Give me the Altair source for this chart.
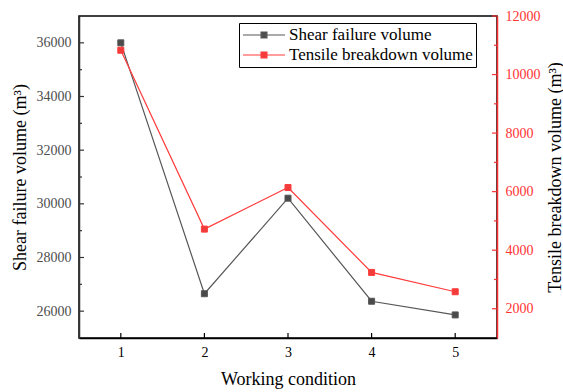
import altair as alt
import pandas as pd

# Working conditions and the two failure volumes (m³)
conditions = [1, 2, 3, 4, 5]
shear_volume = [36000, 26650, 30210, 26370, 25860]
tensile_volume = [10830, 4720, 6140, 3240, 2580]

series_names = ["Shear failure volume", "Tensile breakdown volume"]
marker_colors = ["#4a4a4a", "#f23b3b"]
line_colors = ["#575757", "#ff3c3c"]

# Tick positions (ticks point into the plot, so they are drawn as rules)
x_ticks = [1, 2, 3, 4, 5]
shear_major = [26000, 28000, 30000, 32000, 34000, 36000]
shear_minor = [27000, 29000, 31000, 33000, 35000]
tensile_major = [2000, 4000, 6000, 8000, 10000, 12000]
tensile_minor = [3000, 5000, 7000, 9000, 11000]

W, H = 418, 322
FONT = "Liberation Serif"
RED = "#ff3333"

shear_df = pd.DataFrame({"condition": conditions, "volume": shear_volume,
                         "series": series_names[0]})
tensile_df = pd.DataFrame({"condition": conditions, "volume": tensile_volume,
                           "series": series_names[1]})

x_scale = alt.Scale(domain=[0.5, 5.5], nice=False, zero=False)
x_enc = alt.X(
    "condition:Q", scale=x_scale,
    axis=alt.Axis(values=x_ticks, format="d", tickSize=0, labelPadding=7,
                  labelFontSize=14, labelColor="black", domainColor="black",
                  domainWidth=1.5, grid=False, title="Working condition",
                  titleFontSize=18, titleFontWeight="normal", titleColor="black",
                  titleY=41, titleBaseline="middle"),
)

shear_scale = alt.Scale(domain=[25000, 37000], nice=False, zero=False)
tensile_scale = alt.Scale(domain=[1000, 12000], nice=False, zero=False)

legend = alt.Legend(
    title=None, orient="none", legendX=160, legendY=7, direction="vertical",
    symbolType="M-1,0H1M-0.14,-0.14H0.14V0.14H-0.14Z", symbolSize=1764,
    symbolStrokeWidth=1.2, symbolOpacity=1, clipHeight=18, rowPadding=2,
    labelOffset=3, labelFontSize=17, labelFont=FONT, labelColor="black",
    labelLimit=400, padding=3, strokeColor="black", fillColor="white",
)
fill_enc = alt.Fill("series:N", scale=alt.Scale(domain=series_names, range=marker_colors),
                    legend=legend)
stroke_enc = alt.Stroke("series:N", scale=alt.Scale(domain=series_names, range=line_colors),
                        legend=legend)

# ---- shear failure volume on the left axis ----
shear_y = alt.Y(
    "volume:Q", scale=shear_scale,
    axis=alt.Axis(orient="left", values=shear_major, format="d", tickSize=0,
                  labelPadding=8, labelFontSize=14, labelColor="#4d4d4d",
                  domainColor="#333333", domainWidth=1.5, grid=False,
                  title="Shear failure volume (m³)", titleFontSize=18,
                  titleFontWeight="normal", titleColor="black", titleAngle=270,
                  titleX=-59, titleY=H / 2, titleAlign="center",
                  titleBaseline="middle"),
)
shear_line = alt.Chart(shear_df).mark_line(color=line_colors[0], strokeWidth=1.2).encode(
    x=x_enc, y=shear_y)
shear_pts = alt.Chart(shear_df).mark_point(
    shape="square", filled=True, size=36, opacity=1, strokeWidth=1).encode(
    x=x_enc, y=shear_y, fill=fill_enc, stroke=stroke_enc)

shear_major_ticks = alt.Chart(pd.DataFrame({"volume": shear_major})).mark_rule(
    color="#333333", strokeWidth=1.2).encode(
    y=alt.Y("volume:Q", scale=shear_scale), x=alt.value(0), x2=alt.value(5))
shear_minor_ticks = alt.Chart(pd.DataFrame({"volume": shear_minor})).mark_rule(
    color="#333333", strokeWidth=1.2).encode(
    y=alt.Y("volume:Q", scale=shear_scale), x=alt.value(0), x2=alt.value(3))
x_major_ticks = alt.Chart(pd.DataFrame({"condition": x_ticks})).mark_rule(
    color="black", strokeWidth=1.2).encode(
    x=alt.X("condition:Q", scale=x_scale), y=alt.value(H - 5), y2=alt.value(H))

shear_layer = alt.layer(shear_line, shear_pts, shear_major_ticks,
                        shear_minor_ticks, x_major_ticks)

# ---- tensile breakdown volume on the right axis ----
tensile_y = alt.Y(
    "volume:Q", scale=tensile_scale,
    axis=alt.Axis(orient="right", values=tensile_major, format="d", tickSize=0,
                  labelPadding=8, labelFontSize=14, labelColor=RED,
                  domainColor=RED, domainWidth=1.5, grid=False,
                  title="Tensile breakdown volume (m³)", titleFontSize=18,
                  titleFontWeight="normal", titleColor="black", titleAngle=270,
                  titleX=58, titleY=H / 2, titleAlign="center",
                  titleBaseline="middle"),
)
tensile_line = alt.Chart(tensile_df).mark_line(color=line_colors[1], strokeWidth=1.2).encode(
    x=x_enc, y=tensile_y)
tensile_pts = alt.Chart(tensile_df).mark_point(
    shape="square", filled=True, size=36, opacity=1, strokeWidth=1).encode(
    x=x_enc, y=tensile_y, fill=fill_enc, stroke=stroke_enc)

tensile_major_ticks = alt.Chart(pd.DataFrame({"volume": tensile_major})).mark_rule(
    color=RED, strokeWidth=1.2).encode(
    y=alt.Y("volume:Q", scale=tensile_scale), x=alt.value(W - 5), x2=alt.value(W))
tensile_minor_ticks = alt.Chart(pd.DataFrame({"volume": tensile_minor})).mark_rule(
    color=RED, strokeWidth=1.2).encode(
    y=alt.Y("volume:Q", scale=tensile_scale), x=alt.value(W - 3), x2=alt.value(W))

tensile_layer = alt.layer(tensile_line, tensile_pts, tensile_major_ticks,
                          tensile_minor_ticks)

chart = (
    alt.layer(shear_layer, tensile_layer)
    .resolve_scale(y="independent")
    .properties(width=W, height=H,
                autosize=alt.AutoSizeParams(type="none"),
                padding={"left": 79, "top": 16, "right": 66, "bottom": 54},
                background="white")
    .configure(font=FONT)
    .configure_view(stroke="black", strokeWidth=1.5)
    .configure_axis(labelFont=FONT, titleFont=FONT)
)

chart.save("out.html", embed_options={"renderer": "svg", "actions": False})
